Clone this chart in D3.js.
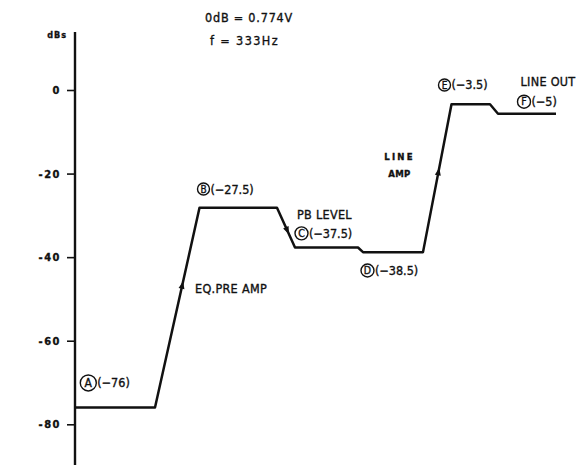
<!DOCTYPE html>
<html>
<head>
<meta charset="utf-8">
<script src="https://cdn.jsdelivr.net/npm/d3@7"></script>
<style>
  body { margin: 0; background: #fff; }
  svg text { font-family: "Liberation Sans Narrow", "DejaVu Sans Condensed", "Liberation Sans", sans-serif; fill: #111; stroke: #111; stroke-width: 0.35px; }
</style>
</head>
<body>
<div id="chart"></div>
<script>
// level diagram data (x is an arbitrary stage position 0..100)
const stages = ["A", "B", "C", "D", "E", "F"];
const stageLevels = [-76, -28.2, -37.7, -38.8, -3.4, -5.7];   // dB as drawn
const stageLabels = ["(\u221276)", "(\u221227.5)", "(\u221237.5)", "(\u221238.5)", "(\u22123.5)", "(\u22125)"];
const plateauStart = [0, 24.9, 44, 57.6, 75.3, 84.6];
const plateauEnd = [16, 40.4, 56.6, 69.6, 83, 96.2];
const yTicks = [0, -20, -40, -60, -80];
// arrows sit on the transitions: [from stage, to stage, fraction along]
const arrows = [[0, 1, 0.61], [1, 2, 0.56], [3, 4, 0.54]];

var width = 586, height = 465;

var svg = d3.select("#chart")
  .append("svg")
  .attr("width", width)
  .attr("height", height);

var x = d3.scaleLinear().domain([0, 100]).range([75, 575]);
var y = d3.scaleLinear().domain([-80, 0]).range([424.3, 90]);

// Y axis
var yAxis = svg.append("g")
  .attr("transform", "translate(" + x(0) + ",0)")
  .call(d3.axisLeft(y).tickValues(yTicks).tickSize(8).tickPadding(6)
        .tickFormat(function(d) { return d === 0 ? "0" : "-" + Math.abs(d); }));
yAxis.select(".domain").remove();
yAxis.selectAll(".tick line").attr("stroke", "#111").attr("stroke-width", 1.6);
yAxis.selectAll(".tick text")
  .style("font-size", "11px")
  .style("font-weight", "bold")
  .style("letter-spacing", "1.5px")
  .attr("fill", "#111");

svg.append("line")
  .attr("x1", x(0)).attr("x2", x(0))
  .attr("y1", y(13.9)).attr("y2", y(-92))
  .attr("stroke", "#111")
  .attr("stroke-width", 2.4);

svg.append("text")
  .attr("x", 67).attr("y", 38)
  .attr("text-anchor", "end")
  .style("font-size", "9px")
  .style("font-weight", "bold")
  .style("letter-spacing", "1px")
  .text("dBs");

// Header
svg.append("text")
  .attr("x", 205).attr("y", 22)
  .style("font-size", "12.5px")
  .style("letter-spacing", "0.8px")
  .text("0dB = 0.774V");
svg.append("text")
  .attr("x", 210).attr("y", 45)
  .style("font-size", "12.5px")
  .style("letter-spacing", "1.4px")
  .text("f  =  333Hz");

// Level line
var pts = [];
for (let i = 0; i < stages.length; i++) {
  pts.push([plateauStart[i], stageLevels[i]]);
  pts.push([plateauEnd[i], stageLevels[i]]);
}
svg.append("path")
  .datum(pts)
  .attr("fill", "none")
  .attr("stroke", "#111")
  .attr("stroke-width", 2.5)
  .attr("stroke-linejoin", "round")
  .attr("d", d3.line()
    .x(function(d) { return x(d[0]); })
    .y(function(d) { return y(d[1]); }));

// Arrowheads along the transitions
arrows.forEach(function(a) {
  var x0 = x(plateauEnd[a[0]]), y0 = y(stageLevels[a[0]]);
  var x1 = x(plateauStart[a[1]]), y1 = y(stageLevels[a[1]]);
  var px = x0 + (x1 - x0) * a[2], py = y0 + (y1 - y0) * a[2];
  var ang = Math.atan2(y1 - y0, x1 - x0) * 180 / Math.PI;
  svg.append("path")
    .attr("d", "M4.5,0 L-3,-3 L-3,3 Z")
    .attr("fill", "#111")
    .attr("transform", "translate(" + px + "," + py + ") rotate(" + ang + ")");
});

// Circled stage labels: [circle x, circle y, radius]
const labelPos = [[2.66, -70.1, 8], [25.7, -23.7, 6], [45.3, -34.3, 6.5], [58.5, -43.2, 6.5], [73.9, 1.2, 6], [89.8, -2.8, 6.5]];
stages.forEach(function(s, i) {
  var p = labelPos[i];
  var g = svg.append("g").attr("transform", "translate(" + x(p[0]) + "," + y(p[1]) + ")");
  g.append("circle")
    .attr("r", p[2])
    .attr("fill", "none")
    .attr("stroke", "#111")
    .attr("stroke-width", 1.4);
  g.append("text")
    .attr("text-anchor", "middle")
    .attr("dy", "0.36em")
    .style("font-size", (p[2] + 4) + "px")
    .text(s);
  g.append("text")
    .attr("x", p[2] + 1)
    .attr("dy", "0.36em")
    .style("font-size", "12.5px")
    .text(stageLabels[i]);
});

// Section annotations
const notes = [
  {t: "EQ.PRE AMP", x: 24, y: -47.6, a: "start"},
  {t: "PB LEVEL", x: 44.4, y: -29.7, a: "start"},
  {t: "LINE", x: 64.9, y: -16, a: "middle"},
  {t: "AMP", x: 64.9, y: -19.9, a: "middle"},
  {t: "LINE OUT", x: 89.1, y: 2.0, a: "start"}
];
notes.forEach(function(n) {
  var small = n.t === "LINE" || n.t === "AMP";
  svg.append("text")
    .attr("x", x(n.x)).attr("y", y(n.y))
    .attr("dy", "0.36em")
    .attr("text-anchor", n.a)
    .style("font-size", small ? "9.5px" : "12.5px")
    .style("font-weight", small ? "bold" : "normal")
    .style("letter-spacing", n.t === "LINE" ? "2.2px" : "0.3px")
    .text(n.t);
});
</script>
</body>
</html>
